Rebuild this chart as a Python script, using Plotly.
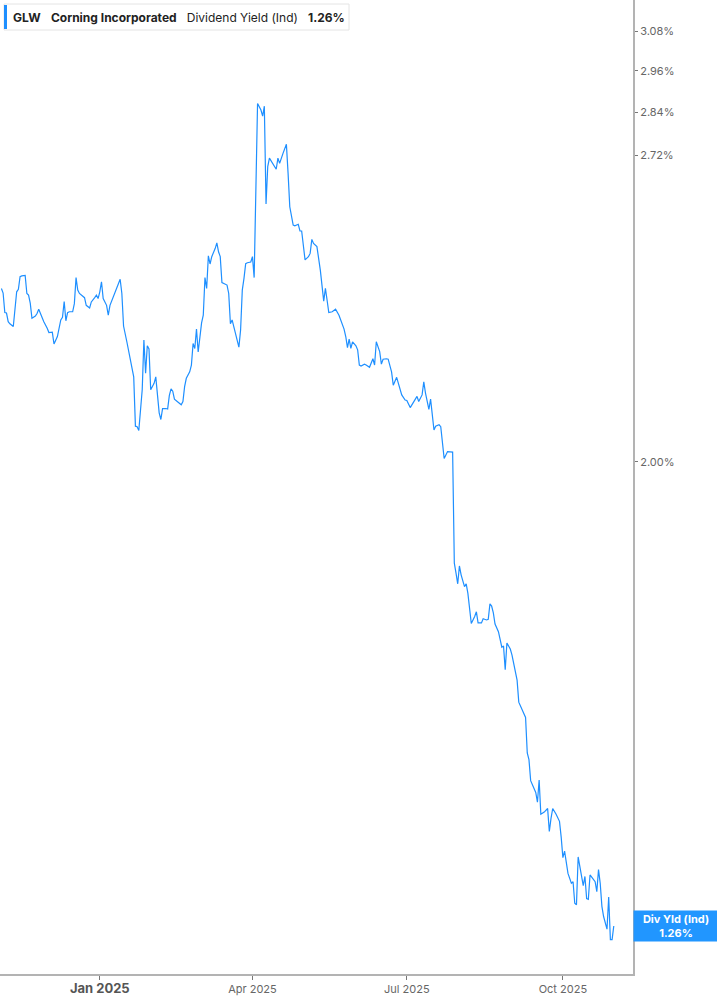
import math
import plotly.graph_objects as go

# Corning (GLW) indicated dividend yield, %
dates = [
    "2024-11-04", "2024-11-05", "2024-11-06", "2024-11-07", "2024-11-08", "2024-11-09", "2024-11-11",
    "2024-11-13", "2024-11-14", "2024-11-15", "2024-11-16", "2024-11-18", "2024-11-19", "2024-11-20",
    "2024-11-21", "2024-11-22", "2024-11-24", "2024-11-25", "2024-11-26", "2024-11-27", "2024-11-29",
    "2024-12-01", "2024-12-02", "2024-12-04", "2024-12-05", "2024-12-07", "2024-12-08", "2024-12-09",
    "2024-12-10", "2024-12-11", "2024-12-12", "2024-12-13", "2024-12-14", "2024-12-16", "2024-12-17",
    "2024-12-18", "2024-12-19", "2024-12-20", "2024-12-23", "2024-12-24", "2024-12-26", "2024-12-27",
    "2024-12-29", "2024-12-30", "2024-12-31", "2025-01-01", "2025-01-02", "2025-01-03", "2025-01-05",
    "2025-01-06", "2025-01-07", "2025-01-08", "2025-01-10", "2025-01-12", "2025-01-13", "2025-01-14",
    "2025-01-15", "2025-01-17", "2025-01-19", "2025-01-21", "2025-01-22", "2025-01-23", "2025-01-24",
    "2025-01-26", "2025-01-27", "2025-01-28", "2025-01-29", "2025-01-30", "2025-01-31", "2025-02-02",
    "2025-02-03", "2025-02-04", "2025-02-05", "2025-02-06", "2025-02-07", "2025-02-09", "2025-02-10",
    "2025-02-11", "2025-02-12", "2025-02-13", "2025-02-14", "2025-02-16", "2025-02-18", "2025-02-19",
    "2025-02-20", "2025-02-21", "2025-02-23", "2025-02-24", "2025-02-25", "2025-02-26", "2025-02-27",
    "2025-02-28", "2025-03-01", "2025-03-02", "2025-03-03", "2025-03-04", "2025-03-05", "2025-03-06",
    "2025-03-07", "2025-03-08", "2025-03-10", "2025-03-11", "2025-03-12", "2025-03-13", "2025-03-14",
    "2025-03-16", "2025-03-17", "2025-03-18", "2025-03-19", "2025-03-20", "2025-03-21", "2025-03-23",
    "2025-03-24", "2025-03-25", "2025-03-26", "2025-03-27", "2025-03-28", "2025-03-29", "2025-03-31",
    "2025-04-01", "2025-04-02", "2025-04-04", "2025-04-06", "2025-04-07", "2025-04-08", "2025-04-09",
    "2025-04-10", "2025-04-11", "2025-04-13", "2025-04-15", "2025-04-16", "2025-04-17", "2025-04-19",
    "2025-04-21", "2025-04-22", "2025-04-23", "2025-04-25", "2025-04-26", "2025-04-28", "2025-04-29",
    "2025-04-30", "2025-05-02", "2025-05-04", "2025-05-05", "2025-05-06", "2025-05-07", "2025-05-09",
    "2025-05-11", "2025-05-13", "2025-05-14", "2025-05-15", "2025-05-16", "2025-05-18", "2025-05-20",
    "2025-05-22", "2025-05-23", "2025-05-25", "2025-05-26", "2025-05-27", "2025-05-28", "2025-05-29",
    "2025-05-30", "2025-06-01", "2025-06-02", "2025-06-03", "2025-06-04", "2025-06-06", "2025-06-07",
    "2025-06-09", "2025-06-11", "2025-06-12", "2025-06-13", "2025-06-15", "2025-06-16", "2025-06-17",
    "2025-06-19", "2025-06-20", "2025-06-22", "2025-06-23", "2025-06-25", "2025-06-26", "2025-06-27",
    "2025-06-28", "2025-06-30", "2025-07-01", "2025-07-03", "2025-07-05", "2025-07-07", "2025-07-08",
    "2025-07-10", "2025-07-11", "2025-07-12", "2025-07-14", "2025-07-15", "2025-07-17", "2025-07-18",
    "2025-07-20", "2025-07-21", "2025-07-23", "2025-07-25", "2025-07-28", "2025-07-29", "2025-07-30",
    "2025-07-31", "2025-08-01", "2025-08-02", "2025-08-04", "2025-08-05", "2025-08-06", "2025-08-07",
    "2025-08-08", "2025-08-10", "2025-08-11", "2025-08-12", "2025-08-14", "2025-08-15", "2025-08-17",
    "2025-08-18", "2025-08-19", "2025-08-20", "2025-08-21", "2025-08-22", "2025-08-24", "2025-08-25",
    "2025-08-26", "2025-08-27", "2025-08-28", "2025-08-29", "2025-08-31", "2025-09-01", "2025-09-02",
    "2025-09-03", "2025-09-04", "2025-09-05", "2025-09-07", "2025-09-09", "2025-09-10", "2025-09-11",
    "2025-09-12", "2025-09-13", "2025-09-15", "2025-09-16", "2025-09-17", "2025-09-18", "2025-09-20",
    "2025-09-22", "2025-09-23", "2025-09-24", "2025-09-25", "2025-09-27", "2025-09-29", "2025-09-30",
    "2025-10-01", "2025-10-02", "2025-10-03", "2025-10-04", "2025-10-06", "2025-10-07", "2025-10-08",
    "2025-10-09", "2025-10-10", "2025-10-11", "2025-10-12", "2025-10-13", "2025-10-14", "2025-10-15",
    "2025-10-16", "2025-10-17", "2025-10-18", "2025-10-20", "2025-10-21", "2025-10-22", "2025-10-23",
    "2025-10-24", "2025-10-25", "2025-10-27", "2025-10-28", "2025-10-29", "2025-10-30", "2025-10-31",
]

div_yield = [
    2.380, 2.369, 2.323, 2.322, 2.302, 2.297, 2.291,
    2.372, 2.378, 2.408, 2.410, 2.411, 2.368, 2.364,
    2.345, 2.310, 2.315, 2.321, 2.331, 2.321, 2.302,
    2.287, 2.277, 2.278, 2.251, 2.268, 2.287, 2.306,
    2.312, 2.349, 2.304, 2.323, 2.325, 2.325, 2.344,
    2.406, 2.376, 2.368, 2.358, 2.340, 2.334, 2.348,
    2.358, 2.364, 2.356, 2.372, 2.396, 2.356, 2.340,
    2.317, 2.340, 2.350, 2.372, 2.390, 2.402, 2.368,
    2.292, 2.255, 2.213, 2.178, 2.073, 2.072, 2.064,
    2.150, 2.260, 2.186, 2.247, 2.240, 2.150, 2.164,
    2.178, 2.136, 2.101, 2.087, 2.110, 2.110, 2.109,
    2.138, 2.152, 2.147, 2.130, 2.124, 2.118, 2.125,
    2.157, 2.175, 2.189, 2.204, 2.252, 2.241, 2.285,
    2.233, 2.271, 2.299, 2.317, 2.406, 2.380, 2.459,
    2.439, 2.457, 2.477, 2.491, 2.469, 2.457, 2.394,
    2.391, 2.388, 2.368, 2.297, 2.306, 2.290, 2.262,
    2.244, 2.283, 2.376, 2.404, 2.440, 2.442, 2.444,
    2.457, 2.406, 2.865, 2.846, 2.829, 2.857, 2.590,
    2.689, 2.712, 2.698, 2.682, 2.712, 2.698, 2.725,
    2.750, 2.671, 2.583, 2.536, 2.534, 2.538, 2.521,
    2.521, 2.449, 2.457, 2.465, 2.500, 2.490, 2.482,
    2.424, 2.350, 2.380, 2.352, 2.323, 2.325, 2.331,
    2.317, 2.306, 2.285, 2.268, 2.243, 2.262, 2.241,
    2.256, 2.247, 2.238, 2.204, 2.202, 2.206, 2.204,
    2.199, 2.218, 2.204, 2.256, 2.234, 2.206, 2.217,
    2.218, 2.217, 2.189, 2.160, 2.177, 2.162, 2.153,
    2.139, 2.128, 2.127, 2.112, 2.125, 2.136, 2.125,
    2.139, 2.167, 2.143, 2.108, 2.130, 2.065, 2.073,
    2.076, 2.072, 2.007, 2.021, 2.020, 1.807, 1.789,
    1.770, 1.802, 1.786, 1.765, 1.770, 1.753, 1.727,
    1.701, 1.713, 1.721, 1.702, 1.702, 1.709, 1.707,
    1.708, 1.735, 1.731, 1.719, 1.700, 1.687, 1.674,
    1.661, 1.663, 1.624, 1.668, 1.658, 1.648, 1.634,
    1.617, 1.607, 1.572, 1.560, 1.548, 1.494, 1.484,
    1.453, 1.447, 1.436, 1.422, 1.454, 1.405, 1.408,
    1.413, 1.381, 1.399, 1.413, 1.405, 1.395, 1.373,
    1.345, 1.354, 1.337, 1.324, 1.311, 1.313, 1.285,
    1.283, 1.346, 1.331, 1.320, 1.308, 1.320, 1.291,
    1.290, 1.322, 1.319, 1.313, 1.300, 1.329, 1.311,
    1.281, 1.268, 1.252, 1.293, 1.239, 1.239, 1.256,
]

y_ticks = [2.00, 2.72, 2.84, 2.96, 3.08]
x_ticks = ["2025-01-01", "2025-04-01", "2025-07-01", "2025-10-01"]
x_labels = ["Jan 2025", "Apr 2025", "Jul 2025", "Oct 2025"]

BLUE = "#1e8fff"
AXIS = "#b3b3b3"
W, H = 717, 1005
plot_w, plot_h = 633, 974

fig = go.Figure()
fig.add_trace(go.Scatter(
    x=dates, y=div_yield, mode="lines",
    line=dict(color=BLUE, width=1.2),
    hovertemplate="%{x|%b %d, %Y}<br>%{y:.2f}%<extra></extra>",
))

# first label (year start) is drawn bold and a bit larger
tick_text = [f"<span style='font-size:13px;color:#555'><b>{x_labels[0]}</b></span>"] + x_labels[1:]

fig.update_layout(
    width=W, height=H,
    margin=dict(l=0, r=W - plot_w, t=0, b=H - plot_h),
    paper_bgcolor="white", plot_bgcolor="white",
    font=dict(family="Inter, Roboto, sans-serif", size=11, color="#666"),
    showlegend=False,
    xaxis=dict(
        type="date",
        range=["2024-11-03 04:00", "2025-11-11 08:00"],
        tickvals=x_ticks, ticktext=tick_text,
        showgrid=False, zeroline=False,
        showline=True, linecolor=AXIS, linewidth=2,
        ticks="outside", ticklen=4, tickcolor="#777", tickwidth=1,
        tickfont=dict(size=11, color="#666"),
    ),
    yaxis=dict(
        type="log", side="right",
        range=[math.log10(1.197), math.log10(3.178)],
        tickvals=y_ticks, ticktext=[f"{v:.2f}%" for v in y_ticks],
        showgrid=False, zeroline=False,
        showline=True, linecolor=AXIS, linewidth=2,
        ticks="outside", ticklen=3, tickcolor="#777", tickwidth=1,
        tickfont=dict(size=11, color="#666"),
    ),
)

# header box with blue accent bar
def px_x(p):
    return p / plot_w

def px_y(p):
    return (plot_h - p) / plot_h

fig.add_shape(type="rect", xref="paper", yref="paper",
              x0=px_x(4), x1=px_x(349), y0=px_y(30), y1=px_y(4),
              line=dict(color="#e4e4e4", width=1), fillcolor="white", layer="above")
fig.add_shape(type="rect", xref="paper", yref="paper",
              x0=px_x(4), x1=px_x(7), y0=px_y(29), y1=px_y(5),
              line=dict(width=0), fillcolor=BLUE, layer="above")

sp = "&nbsp;" * 3
fig.add_annotation(
    xref="paper", yref="paper", x=px_x(11), y=px_y(17),
    xanchor="left", yanchor="middle", showarrow=False,
    text=f"<b>GLW</b>{sp}<b>Corning Incorporated</b>{sp}Dividend Yield (Ind){sp}<b>1.26%</b>",
    font=dict(family="Inter, Roboto, sans-serif", size=12, color="#222"),
)

# last value label on the right axis
fig.add_annotation(
    xref="paper", yref="y", x=1, y=math.log10(div_yield[-1]),
    xanchor="left", yanchor="middle", showarrow=False,
    text="<b>Div Yld (Ind)</b><br><b>1.26%</b>",
    font=dict(family="Inter, Roboto, sans-serif", size=11, color="white"),
    bgcolor="#2196ff", width=80, height=26, borderpad=2, align="center",
)

# drop the default page margin so the figure sits at the window's corner
fig.write_html("out.html", config={"displayModeBar": False},
               post_script="document.body.style.margin='0px';")
